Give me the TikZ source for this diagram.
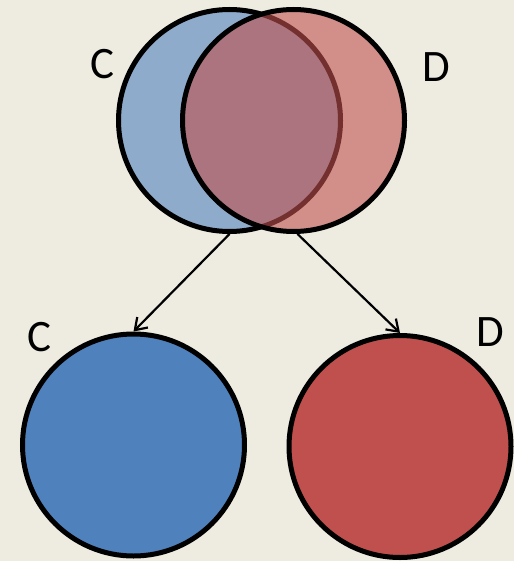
\documentclass[tikz,border=0pt]{standalone}
\usepackage{fontspec}
\setmainfont{Carlito}
\usetikzlibrary{arrows.meta}
\definecolor{paper}{HTML}{EEECE1}
\definecolor{setblue}{HTML}{4F81BD}
\definecolor{setred}{HTML}{C0504D}
\tikzset{
  setcircle/.style={circle, draw=black, line width=5pt, inner sep=0pt, minimum size=222pt},
  label text/.style={font=\fontsize{45}{45}\selectfont, inner sep=0pt},
  link/.style={line width=2.2pt, -{Straight Barb[length=11pt,width=15pt,line width=2.2pt]}}
}
\begin{document}
\begin{tikzpicture}[x=1pt,y=-1pt]
  \fill[paper] (0,0) rectangle (514,561);
  \useasboundingbox (0,0) rectangle (514,561);

  % overlapping sets
  \node[setcircle, fill=setblue, fill opacity=0.6] (topC) at (229.5,120.5) {};
  \node[setcircle, fill=setred, fill opacity=0.6] (topD) at (293.5,120.5) {};

  % separated sets
  \node[setcircle, fill=setblue] (botC) at (133.5,445) {};
  \node[setcircle, fill=setred] (botD) at (400,446.5) {};

  % labels
  \node[label text] (lC1) at (102,64.5) {C};
  \node[label text] (lD1) at (436,67.5) {D};
  \node[label text] (lC2) at (39,337) {C};
  \node[label text] (lD2) at (490,332) {D};

  % arrows
  \draw[link] (topC.south) -- (botC.north);
  \draw[link] (topD.-88) -- (botD.north);
\end{tikzpicture}
\end{document}
